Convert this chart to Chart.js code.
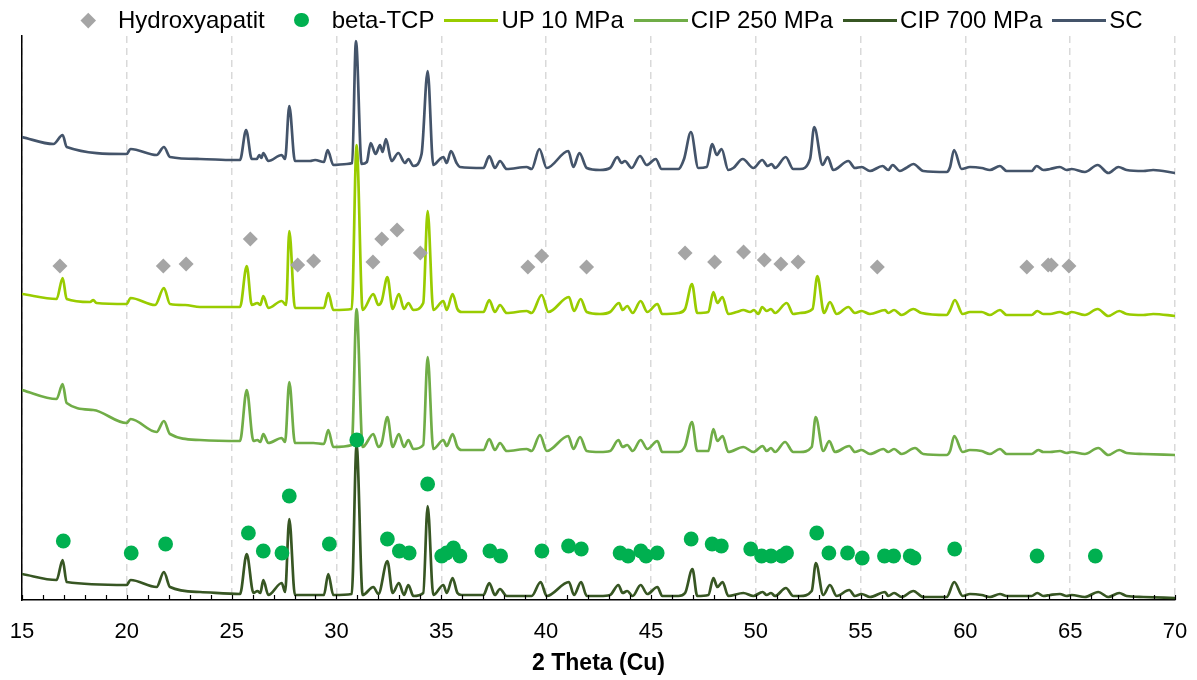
<!DOCTYPE html>
<html>
<head>
<meta charset="utf-8">
<script src="https://cdn.jsdelivr.net/npm/chart.js@4.4.0/dist/chart.umd.min.js"></script>
<style>
  html, body { margin: 0; padding: 0; background: #fff; }
  #wrap { position: relative; width: 1197px; height: 680px; }
  #legend {
    position: absolute; left: 61px; top: 8px; display: flex; align-items: center;
    font-family: "Liberation Sans", Arial, sans-serif; font-size: 24px; line-height: 24px;
    color: #000; white-space: nowrap;
  }
  .item { display: flex; align-items: center; margin-right: 10px; }
  .sym { position: relative; width: 54px; height: 24px; margin-right: 3px; }
  .sym span { position: absolute; left: 50%; top: 50%; }
</style>
</head>
<body>
<div id="wrap">
  <canvas id="chart" width="1197" height="680"></canvas>
  <div id="legend"></div>
</div>
<script>
// reflections, 2 theta / relative height
const hydroxyapatitPeaks = [[16.81,334],[21.74,334],[22.83,336],[25.89,361],[28.15,335],[28.91,339],[31.74,338],[32.16,361],[32.89,370],[34.0,347],[39.13,333],[39.79,344],[41.93,333],[46.63,347],[48.04,338],[49.42,348],[50.41,340],[51.2,336],[52.02,338],[55.8,333],[62.93,333],[63.95,335],[64.1,335],[64.94,334]];

const betaTcpPeaks = [[16.97,59],[20.21,47],[21.85,56],[25.8,67],[26.51,49],[27.4,47],[27.75,104],[29.66,56],[30.97,160],[32.43,61],[33.0,49],[33.47,47],[34.35,116],[35.02,44],[35.25,47],[35.58,52],[35.89,44],[37.32,49],[37.83,44],[39.8,49],[41.07,54],[41.68,51],[43.53,47],[43.91,44],[44.52,49],[44.77,44],[45.3,47],[46.92,61],[47.92,56],[48.36,54],[49.76,51],[50.28,44],[50.73,44],[51.25,44],[51.47,47],[52.91,67],[53.49,47],[54.38,47],[55.08,42],[56.14,44],[56.58,44],[57.37,44],[57.55,42],[59.49,51],[63.42,44],[66.2,44]];

// diffractograms (offset as in the figure)
const up10 = [[15,306],[16.65,301],[16.94,322],[17.13,301],[18.25,298],[18.4,300],[18.55,297],[19.99,296],[20.18,302],[21.35,295],[21.77,312],[22.06,296],[22.78,295],[23.49,293],[25.4,293],[25.72,334],[25.96,295],[26.23,297],[26.37,295],[26.51,304],[26.75,292],[27.39,299],[27.6,295],[27.75,369],[28.02,292],[28.9,292],[29.4,292],[29.61,307],[29.85,290],[30.73,291],[30.96,455],[31.25,290],[31.76,306],[32.0,295],[32.16,299],[32.43,323],[32.68,291],[32.98,306],[33.22,291],[33.43,297],[33.67,290],[34.14,297],[34.35,389],[34.62,290],[35.1,299],[35.26,290],[35.54,306],[35.77,291],[35.97,288],[37.01,288],[37.29,300],[37.56,288],[37.8,295],[38.12,287],[39.07,289],[39.31,287],[39.79,305],[40.11,288],[41.09,303],[41.33,289],[41.65,301],[41.94,288],[42.57,286],[43.05,288],[43.48,297],[43.65,290],[43.87,294],[44.13,287],[44.51,299],[44.83,288],[45.31,296],[45.54,286],[46.31,287],[46.63,291],[46.96,316],[47.21,287],[47.74,288],[47.98,308],[48.17,297],[48.41,303],[48.69,286],[49.09,288],[49.41,290],[49.73,288],[49.92,290],[50.12,286],[50.31,293],[50.52,289],[50.73,291],[50.92,287],[51.48,297],[51.79,286],[52.11,287],[52.71,291],[52.94,324],[53.26,287],[53.54,298],[53.86,286],[54.42,293],[54.73,287],[55.05,289],[55.45,286],[56.17,290],[56.32,287],[56.6,290],[56.96,285],[57.52,291],[57.91,287],[59.11,285],[59.27,290],[59.5,300],[59.87,286],[60.22,288],[60.78,288],[61.17,285],[61.65,290],[61.97,285],[63.16,285],[63.43,289],[63.72,286],[64.04,286],[64.51,288],[64.83,286],[65.07,288],[65.7,285],[66.31,291],[66.82,284],[67.34,289],[67.69,286],[68.49,285],[68.96,286],[70,284]];

const cip250 = [[15,210],[16.65,201],[16.94,216],[17.13,197],[18.4,190],[19.99,177],[20.18,181],[21.42,168],[21.77,179],[22.06,166],[23.49,160],[25.4,159],[25.72,210],[26.04,159],[26.23,160],[26.37,158],[26.51,166],[26.75,157],[27.39,162],[27.55,158],[27.75,218],[28.02,157],[28.9,157],[29.4,156],[29.61,170],[29.85,153],[30.73,155],[30.96,291],[31.25,153],[31.76,166],[32.0,153],[32.16,157],[32.43,183],[32.68,153],[32.98,166],[33.22,153],[33.43,160],[33.67,151],[34.14,155],[34.35,243],[34.62,151],[35.1,160],[35.26,154],[35.54,166],[35.77,153],[35.97,150],[37.01,150],[37.29,161],[37.56,150],[37.8,157],[38.12,149],[39.07,151],[39.31,149],[39.71,165],[40.03,149],[41.06,164],[41.3,151],[41.62,163],[41.94,149],[42.57,148],[43.05,149],[43.45,160],[43.65,153],[43.87,155],[44.13,149],[44.51,160],[44.83,151],[45.31,159],[45.54,148],[46.31,148],[46.63,154],[46.96,178],[47.21,149],[47.74,149],[47.98,171],[48.17,159],[48.42,164],[48.69,148],[49.41,153],[49.89,148],[50.33,154],[50.52,149],[50.73,152],[50.92,148],[51.4,158],[51.79,148],[52.11,148],[52.67,153],[52.86,183],[53.22,149],[53.51,159],[53.78,148],[54.46,154],[54.73,148],[55.05,150],[55.45,146],[56.09,151],[56.32,148],[56.6,151],[56.96,146],[57.6,152],[57.99,146],[59.11,145],[59.27,149],[59.47,164],[59.87,148],[60.22,150],[60.78,149],[61.17,146],[61.65,151],[61.97,146],[63.16,146],[63.48,150],[63.72,148],[64.04,148],[64.51,149],[64.83,147],[65.07,148],[65.7,146],[66.34,152],[66.82,145],[67.34,150],[67.69,147],[68.49,146],[70,145]];

const cip700 = [[15,26],[16.65,20],[16.94,40],[17.13,18],[19.99,15],[20.18,20],[21.42,13],[21.77,28],[22.06,13],[23.49,8],[25.4,6],[25.72,46],[26.04,7],[26.23,9],[26.37,7],[26.51,20],[26.75,5],[27.39,17],[27.55,8],[27.75,81],[28.02,5],[28.9,5],[29.4,5],[29.61,26],[29.85,5],[30.73,6],[30.96,155],[31.25,5],[31.76,13],[32.0,6],[32.43,39],[32.68,7],[32.98,17],[33.22,5],[33.43,15],[33.67,4],[34.14,7],[34.35,94],[34.62,5],[35.1,15],[35.26,7],[35.54,22],[35.77,7],[35.97,5],[37.01,5],[37.29,17],[37.56,5],[37.8,11],[38.12,4],[39.31,4],[39.74,18],[40.03,4],[41.09,18],[41.33,5],[41.67,18],[41.94,4],[42.57,4],[43.05,5],[43.45,15],[43.65,7],[43.87,9],[44.13,4],[44.51,15],[44.83,6],[45.31,13],[45.54,4],[46.31,4],[46.63,7],[46.98,31],[47.21,4],[47.74,5],[47.98,22],[48.17,13],[48.42,18],[48.69,4],[49.41,7],[49.89,4],[50.33,8],[50.52,5],[50.73,7],[50.92,4],[51.44,12],[51.79,4],[52.11,4],[52.67,9],[52.87,37],[53.22,5],[53.54,15],[53.86,4],[54.46,10],[54.73,4],[55.05,6],[55.45,3],[56.17,8],[56.32,4],[56.6,7],[56.96,3],[57.52,9],[57.99,3],[59.11,3],[59.47,18],[59.87,4],[60.22,6],[60.78,5],[61.17,3],[61.65,6],[61.97,4],[63.16,4],[63.43,7],[63.72,4],[64.04,5],[64.51,6],[64.83,4],[65.07,5],[65.7,3],[66.34,8],[66.82,3],[67.34,7],[67.69,4],[68.49,3],[70,2]];

const sc = [[15,463],[16.5,456],[16.94,465],[17.13,453],[19.99,446],[20.18,451],[21.42,445],[21.77,453],[22.06,443],[23.49,441],[25.08,440],[25.4,440],[25.69,470],[25.96,441],[26.2,441],[26.32,445],[26.42,442],[26.51,447],[26.75,439],[27.39,445],[27.55,441],[27.75,494],[28.02,439],[28.74,439],[28.98,440],[29.4,438],[29.58,450],[29.85,435],[30.49,436],[30.75,437],[30.93,559],[31.2,436],[31.45,438],[31.63,457],[31.87,446],[32.08,455],[32.2,448],[32.36,461],[32.63,439],[32.95,447],[33.27,437],[33.43,441],[33.67,434],[34.06,446],[34.35,529],[34.62,435],[34.94,441],[35.1,443],[35.26,437],[35.46,449],[35.73,437],[35.89,433],[37.01,432],[37.29,444],[37.56,432],[37.8,439],[38.12,431],[39.07,433],[39.31,431],[39.68,451],[40.03,432],[41.06,449],[41.3,433],[41.59,447],[41.94,432],[42.57,430],[43.05,432],[43.4,443],[43.6,437],[43.76,439],[44.08,432],[44.48,444],[44.8,435],[45.23,441],[45.51,431],[46.31,431],[46.58,441],[46.91,468],[47.26,432],[47.66,433],[47.93,456],[48.14,445],[48.37,451],[48.69,430],[48.93,432],[49.38,441],[49.89,432],[50.31,440],[50.57,434],[50.76,436],[50.92,432],[51.43,443],[51.79,431],[52.11,431],[52.59,441],[52.79,473],[53.19,435],[53.43,443],[53.7,430],[54.42,439],[54.73,432],[55.05,433],[55.45,429],[56.05,434],[56.32,430],[56.53,435],[56.88,429],[57.17,432],[57.52,436],[57.99,429],[59.11,428],[59.27,433],[59.46,450],[59.82,431],[60.22,433],[60.78,432],[61.17,430],[61.65,434],[61.97,429],[63.16,429],[63.4,434],[63.72,430],[64.04,431],[64.51,433],[64.83,430],[65.07,431],[65.7,428],[66.31,435],[66.82,427],[67.3,433],[67.69,430],[68.49,429],[68.96,430],[70,427]];

const xTicks = { min: 15, max: 70, step: 5 };

const toPoints = arr => arr.map(p => ({ x: p[0], y: p[1] }));
const fontFamily = '"Liberation Sans", Arial, sans-serif';

function trace(label, data, color) {
    return {
        label: label,
        data: toPoints(data),
        showLine: true,
        borderColor: color,
        backgroundColor: color,
        borderWidth: 2.7,
        pointRadius: 0,
        pointStyle: 'line',
        cubicInterpolationMode: 'monotone'
    };
}

// small inside tick marks on the 2 theta axis, every degree
const innerTicks = {
    id: 'innerTicks',
    afterDraw(chart) {
        const xs = chart.scales.x;
        const c = chart.ctx;
        const bottom = chart.chartArea.bottom;
        c.save();
        c.strokeStyle = '#000';
        c.lineWidth = 1.2;
        for (let v = xTicks.min; v <= xTicks.max; v++) {
            const px = Math.round(xs.getPixelForValue(v)) + 0.5;
            c.beginPath();
            c.moveTo(px, bottom);
            c.lineTo(px, bottom - 5);
            c.stroke();
        }
        c.restore();
    }
};

const chart = new Chart(document.getElementById('chart'), {
    type: 'scatter',
    data: {
        datasets: [
            {
                label: 'Hydroxyapatit',
                data: toPoints(hydroxyapatitPeaks),
                pointStyle: 'rectRot',
                pointRadius: 7.5,
                pointBorderWidth: 0,
                backgroundColor: '#a5a5a5',
                borderColor: '#a5a5a5'
            },
            {
                label: 'beta-TCP',
                data: toPoints(betaTcpPeaks),
                pointStyle: 'circle',
                pointRadius: 7.4,
                pointBorderWidth: 0,
                backgroundColor: '#00b050',
                borderColor: '#00b050'
            },
            trace('UP 10 MPa', up10, '#99cc00'),
            trace('CIP 250 MPa', cip250, '#70ad47'),
            trace('CIP 700 MPa', cip700, '#375623'),
            trace('SC', sc, '#44546a')
        ]
    },
    options: {
        responsive: false,
        animation: false,
        events: [],
        layout: { padding: { top: 36, left: 22, right: 22, bottom: 0 } },
        plugins: {
            legend: { display: false },
            tooltip: { enabled: false }
        },
        scales: {
            x: {
                type: 'linear',
                min: xTicks.min,
                max: xTicks.max,
                ticks: {
                    stepSize: xTicks.step,
                    color: '#000',
                    padding: 19,
                    font: { family: fontFamily, size: 22 }
                },
                grid: { color: '#d9d9d9', lineWidth: 1.5, drawTicks: false },
                border: { color: '#000', width: 1.5, dash: [7, 5] },
                title: {
                    display: true,
                    text: '2 Theta (Cu)',
                    color: '#000',
                    font: { family: fontFamily, size: 23, weight: 'bold' },
                    padding: { top: 4, bottom: 3 }
                },
                afterFit(scale) {
                    // keep the plot edges where the figure has them
                    scale.height = 80;
                    scale.paddingLeft = 0;
                    scale.paddingRight = 0;
                }
            },
            y: {
                min: 0,
                max: 564,
                ticks: { display: false },
                grid: { display: false, drawTicks: false },
                border: { color: '#000', width: 1.5 }
            }
        }
    },
    plugins: [innerTicks]
});

// legend built from the datasets
const legend = document.getElementById('legend');
chart.data.datasets.forEach(ds => {
    const item = document.createElement('div');
    item.className = 'item';
    const sym = document.createElement('div');
    sym.className = 'sym';
    const mark = document.createElement('span');
    if (ds.pointStyle === 'rectRot') {
        mark.style.cssText = 'width:10.5px;height:10.5px;margin:-5.25px 0 0 -5.25px;transform:rotate(45deg);background:' + ds.backgroundColor;
    } else if (ds.pointStyle === 'circle') {
        mark.style.cssText = 'width:14.8px;height:14.8px;margin:-7.4px 0 0 -7.4px;border-radius:50%;background:' + ds.backgroundColor;
    } else {
        mark.style.cssText = 'width:54px;height:3px;margin:-1.5px 0 0 -27px;background:' + ds.borderColor;
    }
    sym.appendChild(mark);
    const txt = document.createElement('span');
    txt.textContent = ds.label;
    item.appendChild(sym);
    item.appendChild(txt);
    legend.appendChild(item);
});
</script>
</body>
</html>
